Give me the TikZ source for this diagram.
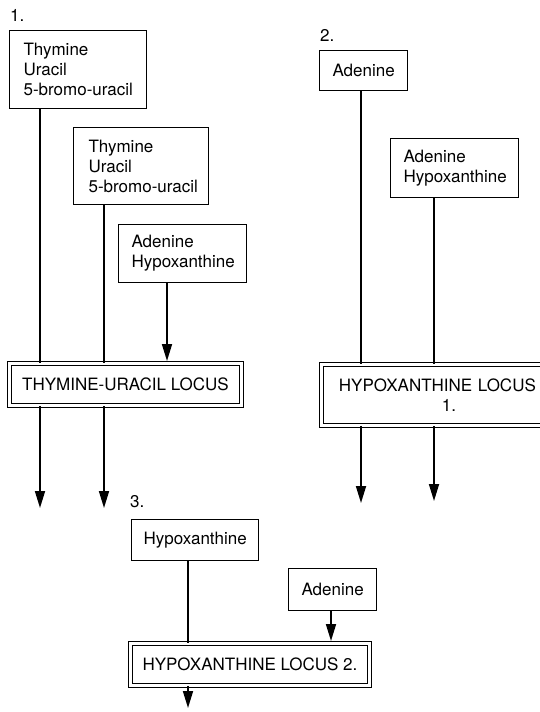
\documentclass[tikz,border=0pt]{standalone}
\usepackage{fontspec}
\setmainfont{TeX Gyre Heros}
\usetikzlibrary{arrows.meta}
\begin{document}
\begin{tikzpicture}[x=1pt,y=-1pt,
  every node/.style={font={\fontsize{17}{20}\selectfont\hyphenpenalty=10000\exhyphenpenalty=10000}},
  src/.style={draw, line width=1.1pt, anchor=north west, align=left, inner ysep=0pt},
  locus/.style={draw, double, double distance=2.4pt, line width=0.9pt, anchor=north west, inner ysep=0pt},
  num/.style={anchor=west, inner sep=0pt},
  conn/.style={line width=1.7pt},
  arr/.style={line width=1.7pt, -{Triangle[length=17pt,width=10pt]}}]
\useasboundingbox (0,0) rectangle (540,712);
\clip (0,0) rectangle (540,712);

% ---------- 1 ----------
\node[num] (n1) at (10,15) {1.};
\node[src, inner xsep=14pt, text width=109pt, minimum height=78pt] (A1) at (9,30) {Thymine\\Uracil\\5-bromo-uracil};
\node[src, inner xsep=15pt, text width=105pt, minimum height=77pt] (A2) at (73,127) {Thymine\\Uracil\\5-bromo-uracil};
\node[src, inner xsep=13pt, text width=102pt, minimum height=58pt] (A3) at (118,224) {Adenine\\Hypoxanthine};
\node[locus, minimum width=232pt, minimum height=42pt, align=center] (TU) at (9,363) {THYMINE-URACIL LOCUS};

\coordinate (e1) at (40,508);
\coordinate (e2) at (104,508);
\coordinate (t3) at (167,360);
\draw[conn] (A1.south -| e1) -- (TU.north -| e1);
\draw[arr] (TU.south -| e1) -- (e1);
\draw[conn] (A2.south -| e2) -- (TU.north -| e2);
\draw[arr] (TU.south -| e2) -- (e2);
\draw[arr, shorten >=2pt] (A3.south -| t3) -- (TU.north -| t3);

% ---------- 2 ----------
\node[num] (n2) at (320,35) {2.};
\node[src, inner xsep=13pt, text width=62pt, minimum height=40pt] (B1) at (319,50) {Adenine};
\node[src, inner xsep=13pt, text width=102pt, minimum height=59pt] (B2) at (390,138) {Adenine\\Hypoxanthine};
\node[locus, minimum width=250pt, minimum height=61pt, align=left, inner xsep=15pt, text width=215pt] (HL1) at (321,364) {HYPOXANTHINE LOCUS\\\hspace*{103pt}1.};

\coordinate (e3) at (361,503);
\coordinate (e4) at (434,501);
\draw[conn] (B1.south -| e3) -- (HL1.north -| e3);
\draw[arr] (HL1.south -| e3) -- (e3);
\draw[conn] (B2.south -| e4) -- (HL1.north -| e4);
\draw[arr] (HL1.south -| e4) -- (e4);

% ---------- 3 ----------
\node[num] (n3) at (130,502) {3.};
\node[src, inner xsep=12pt, text width=103pt, minimum height=41pt] (C1) at (131,519) {Hypoxanthine};
\node[src, inner xsep=13pt, text width=62pt, minimum height=42pt] (C2) at (288,568) {Adenine};
\node[locus, minimum width=239pt, minimum height=42pt, align=center] (HL2) at (130,643) {HYPOXANTHINE LOCUS 2.};

\coordinate (e5) at (188,708);
\coordinate (t6) at (331,641);
\draw[conn] (C1.south -| e5) -- (HL2.north -| e5);
\draw[arr] (HL2.south -| e5) -- (e5);
\draw[arr, shorten >=2pt] (C2.south -| t6) -- (HL2.north -| t6);
\end{tikzpicture}
\end{document}
